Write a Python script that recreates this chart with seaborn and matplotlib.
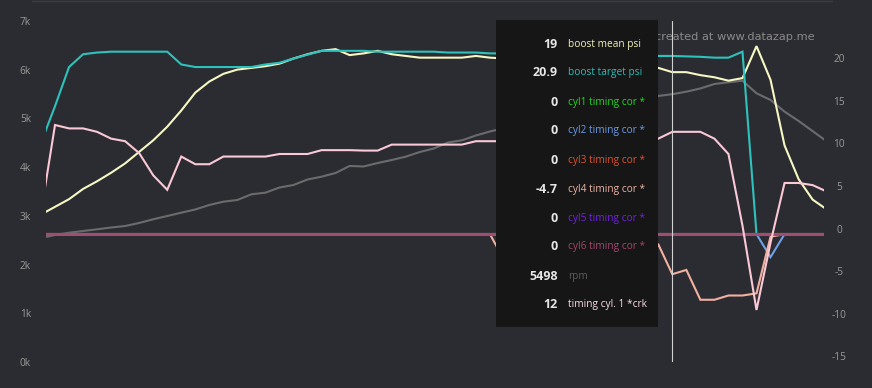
import matplotlib
matplotlib.use('Agg')
import pandas as pd
import matplotlib.pyplot as plt
import seaborn as sns
from matplotlib.patches import Rectangle
from matplotlib.lines import Line2D
from matplotlib.transforms import ScaledTranslation

# log sample index (first and last sample fall just outside the plot area)
sample = list(range(57))

boost_mean = [2.3, 3.2, 4.1, 5.3, 6.2, 7.2, 8.3, 9.65, 11.0, 12.6,
              14.5, 16.6, 17.9, 18.8, 19.3, 19.5, 19.7, 20.0, 20.6, 21.1,
              21.5, 21.7, 21.0, 21.2, 21.5, 21.1, 20.9, 20.7, 20.7, 20.7,
              20.7, 20.9, 20.7, 20.6, 20.5, 20.4, 20.3, 20.2, 20.1, 20.0,
              19.9, 19.8, 19.7, 19.6, 19.5, 19.0, 19.0, 18.65, 18.4, 18.0,
              18.3, 22.05, 18.1, 10.4, 6.45, 4.05, 2.9]
boost_target = [10.7, 15.0, 19.6, 21.1, 21.3, 21.4, 21.4, 21.4, 21.4, 21.4,
                19.9, 19.6, 19.6, 19.6, 19.6, 19.6, 19.9, 20.1, 20.6, 21.05,
                21.5, 21.5, 21.5, 21.5, 21.4, 21.4, 21.4, 21.4, 21.4, 21.3,
                21.3, 21.3, 21.2, 21.2, 21.1, 21.1, 21.0, 21.0, 21.0, 21.0,
                20.9, 20.9, 20.9, 20.9, 20.9, 20.9, 20.85, 20.8, 20.7, 20.7,
                21.4, 0, 0, 0, 0, 0, 0]
cyl1_cor = [0] * 57
cyl2_cor = [0] * 52 + [-2.7] + [0] * 4
cyl3_cor = [0] * 57
cyl4_cor = [0] * 33 + [-3.0, -3.6, -2.8, -2.2, -1.8, -1.5, -1.5, -1.2, -1.0, -1.0,
                       -0.8, -1.2, -4.7, -4.2, -7.7, -7.7, -7.2, -7.2, -6.95, -0.3,
                       0, 0, 0, 0]
cyl5_cor = [0] * 57
cyl6_cor = [0] * 57
rpm = [2546, 2607, 2654, 2689, 2724, 2761, 2792, 2854, 2930, 2997,
       3065, 3131, 3223, 3291, 3326, 3443, 3476, 3582, 3634, 3747,
       3804, 3880, 4024, 4014, 4085, 4147, 4215, 4311, 4383, 4506,
       4551, 4650, 4732, 4800, 4870, 4930, 5000, 5060, 5120, 5180,
       5240, 5300, 5350, 5410, 5461, 5498, 5549, 5615, 5707, 5742,
       5775, 5516, 5379, 5139, 4948, 4740, 4531]
timing_cyl1 = [2.5, 12.8, 12.4, 12.4, 12.0, 11.2, 10.9, 9.5, 6.9, 5.2,
               9.1, 8.2, 8.2, 9.1, 9.1, 9.1, 9.1, 9.4, 9.4, 9.4,
               9.85, 9.85, 9.85, 9.8, 9.8, 10.5, 10.5, 10.5, 10.5, 10.5,
               10.5, 10.9, 10.9, 10.9, 10.9, 11.2, 11.2, 11.2, 11.2, 11.2,
               11.2, 11.2, 11.2, 11.2, 11.2, 12.0, 12.0, 12.0, 11.2, 9.4,
               1.0, -8.9, -1.0, 6.0, 6.0, 5.75, 5.0]

cursor = 45  # hovered sample

W, H = 872, 388
BG = '#2b2c31'

# name, values, line colour, label colour, axis
series = [
    ('boost mean psi', boost_mean, '#f7f7c4', '#f3f3bd', 'right'),
    ('boost target psi', boost_target, '#2ec2bd', '#2bbdb8', 'right'),
    ('cyl1 timing cor *', cyl1_cor, '#22d822', '#22d822', 'right'),
    ('cyl2 timing cor *', cyl2_cor, '#6fa0e8', '#6a9bea', 'right'),
    ('cyl3 timing cor *', cyl3_cor, '#e8552a', '#e0532a', 'right'),
    ('cyl4 timing cor *', cyl4_cor, '#f2b0a0', '#efb3a6', 'right'),
    ('cyl5 timing cor *', cyl5_cor, '#7a22e6', '#7022e0', 'right'),
    ('cyl6 timing cor *', cyl6_cor, '#a04d76', '#a4466a', 'right'),
    ('rpm', rpm, '#6b6b6e', '#5c5c5c', 'left'),
    ('timing cyl. 1 *crk', timing_cyl1, '#fbc8d6', '#fbdde4', 'right'),
]

sns.set_theme(style='dark', rc={
    'axes.facecolor': BG,
    'figure.facecolor': BG,
    'axes.edgecolor': BG,
    'axes.grid': False,
})
plt.rcParams['font.family'] = ['Open Sans', 'DejaVu Sans']

fig = plt.figure(figsize=(W / 100, H / 100), dpi=100)
ax = fig.add_axes([46 / W, 26 / H, 778 / W, 341 / H])
ax2 = ax.twinx()

df = pd.DataFrame({name: vals for name, vals, _, _, _ in series})
df['sample'] = sample

for name, vals, color, _, side in series:
    target = ax if side == 'left' else ax2
    lw = 2.2 if name.startswith('cyl6') else 1.5
    sns.lineplot(data=df, x='sample', y=name, ax=target, color=color,
                 linewidth=lw, legend=False, solid_joinstyle='miter')

ax.set_xlim(1 - 9 / 14.03, 1 + 769 / 14.03)
ax.set_ylim(0, 7000)
ax2.set_ylim(-15, 25)

ax.set_xticks([])
ax.set_xlabel('')
ax.set_ylabel('')
ax2.set_ylabel('')
ax.set_yticks(range(0, 7001, 1000))
ax.set_yticklabels([f'{v // 1000}k' for v in range(0, 7001, 1000)])
ax2.set_yticks(range(-15, 21, 5))
ax2.set_yticklabels([str(v) for v in range(-15, 21, 5)])
ax.tick_params(axis='y', length=0, pad=10.8, labelsize=7.3, labelcolor='#9a9a9a')
ax2.tick_params(axis='y', length=0, pad=10.8, labelsize=7.3, labelcolor='#9a9a9a')
lift = ScaledTranslation(0, 5.5 / 100, fig.dpi_scale_trans)
for lab in ax2.get_yticklabels():
    lab.set_ha('center')
    lab.set_transform(lab.get_transform() + lift)

for a in (ax, ax2):
    for s in a.spines.values():
        s.set_visible(False)

ax2.axvline(cursor, color='#d0d0d0', linewidth=0.8, zorder=5)

# thin line at the very top of the figure
fig.add_artist(Line2D([32 / W, 832 / W], [1 - 0.5 / H, 1 - 0.5 / H],
                      color='#3d3e43', linewidth=1.0))

fig.text(815 / W, 1 - 37 / H, 'created at www.datazap.me', ha='right', va='center',
         fontsize=8.2, color='#8a8a8a', family=['DejaVu Sans'], zorder=4)

# tooltip
fig.add_artist(Rectangle((496 / W, 1 - 327 / H), 162 / W, 307 / H,
                         transform=fig.transFigure, facecolor='#161616',
                         edgecolor='none', zorder=10))
for i, (name, vals, _, lab_color, _) in enumerate(series):
    yy = 1 - (44 + 29 * i) / H
    fig.text(557.5 / W, yy, f'{vals[cursor]:g}', ha='right', va='center',
             fontsize=9, fontweight='bold', color='#e6e6e6', zorder=11)
    fig.text(568 / W, yy, name, ha='left', va='center',
             fontsize=7.3, color=lab_color, zorder=11)

fig.savefig('out.png', dpi=100, facecolor=BG)
